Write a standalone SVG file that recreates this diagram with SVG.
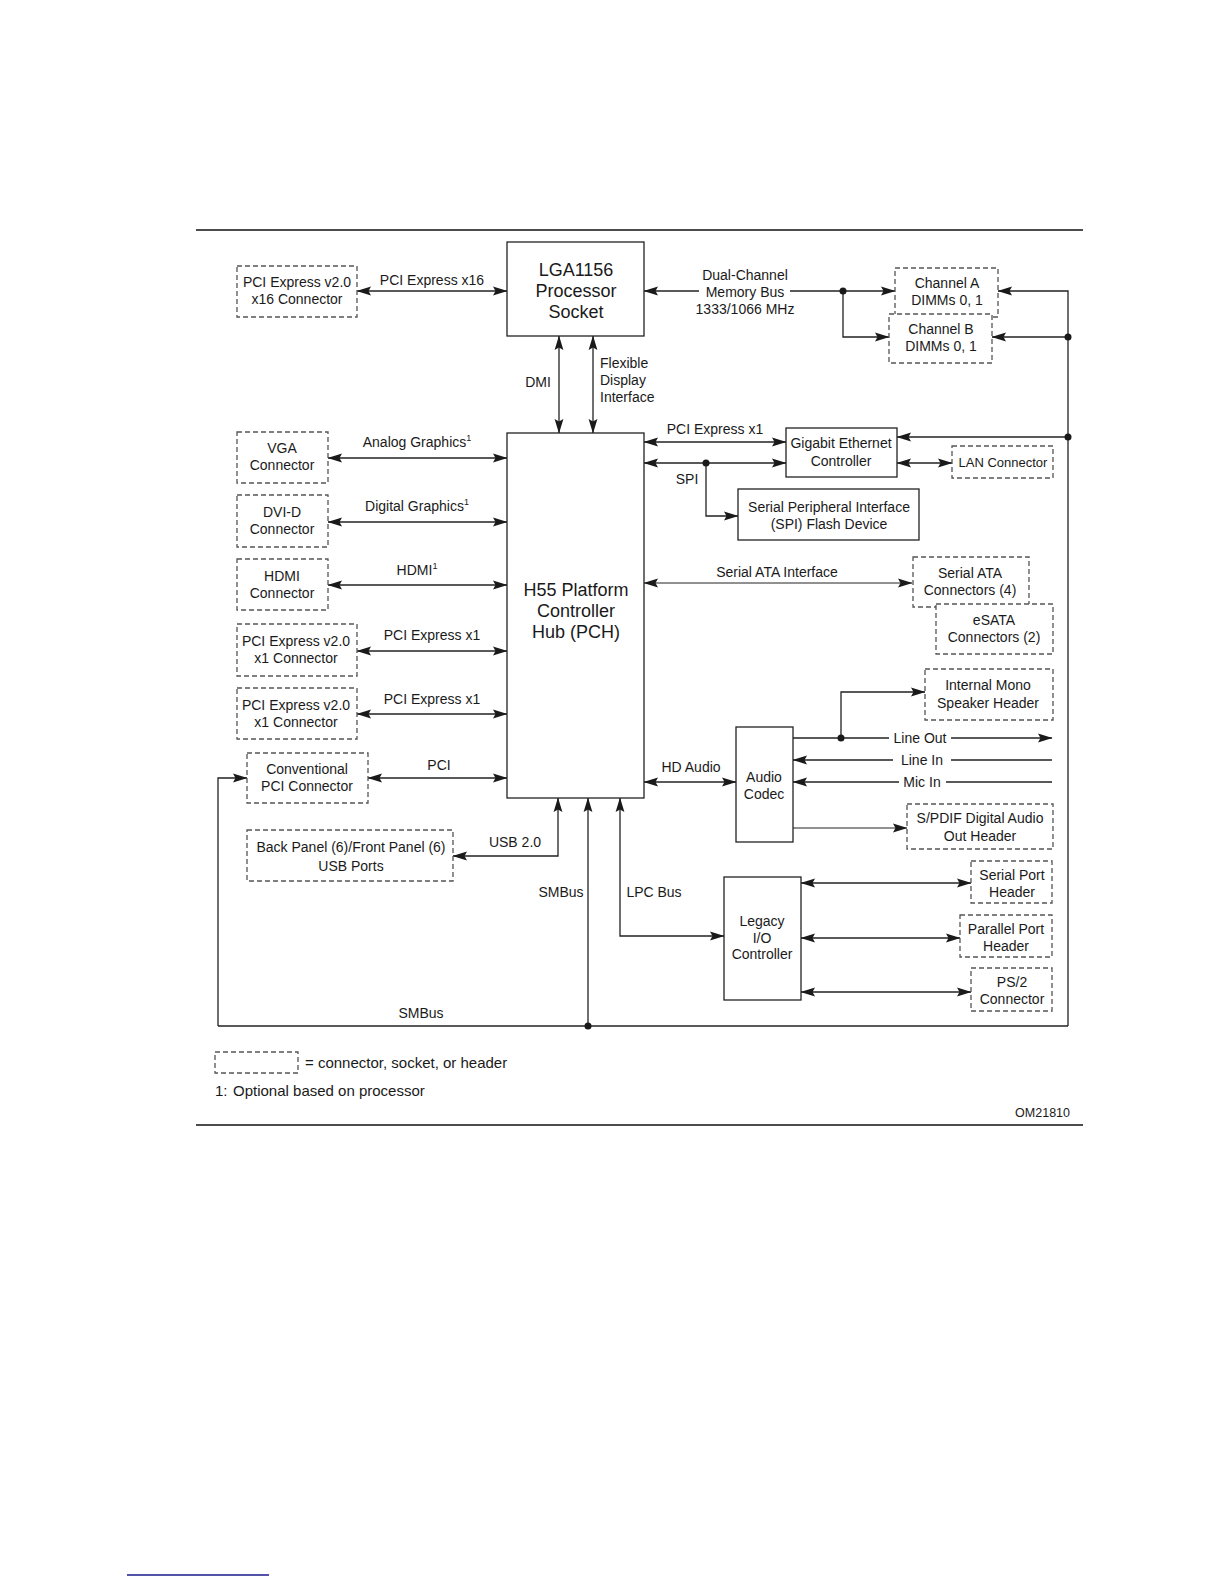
<svg xmlns="http://www.w3.org/2000/svg" width="1224" height="1584" viewBox="0 0 1224 1584">
<style>
.t{font-family:"Liberation Sans",Arial,sans-serif;font-size:14px;fill:#1a1a1a;text-anchor:middle}
.big{font-size:18px}
.st{text-anchor:start}
.sup{font-size:9px}
.box{fill:#fff;stroke:#222;stroke-width:1.3}
.dbox{fill:#fff;stroke:#555;stroke-width:1.3;stroke-dasharray:5 3}
.ln{fill:none;stroke:#222;stroke-width:1.3}
.thin{stroke-width:1}
.ab{marker-start:url(#ah);marker-end:url(#ah)}
.ae{marker-end:url(#ah)}
</style>
<defs>
<marker id="ah" markerUnits="userSpaceOnUse" markerWidth="16" markerHeight="10" refX="14" refY="5" orient="auto-start-reverse" viewBox="0 0 16 10">
<path d="M0,0.6 L14.5,5 L0,9.4 L2.5,5 z" fill="#1a1a1a"/>
</marker>
</defs>
<rect width="1224" height="1584" fill="#fff"/>
<line x1="196" y1="230" x2="1083" y2="230" stroke="#111" stroke-width="1.3"/>
<line x1="196" y1="1125" x2="1083" y2="1125" stroke="#111" stroke-width="1.3"/>
<line x1="127" y1="1575" x2="269" y2="1575" stroke="#1a1a8a" stroke-width="1.5"/>

<g id="connectors">
<line class="ln ab" x1="357" y1="291" x2="507" y2="291"/>
<line class="ln" x1="644" y1="291" x2="699" y2="291" style="marker-start:url(#ah)"/>
<line class="ln ae" x1="790" y1="291" x2="895" y2="291"/>
<path class="ln ae" d="M843,291 V337 H889"/>
<line class="ln ab" x1="559" y1="336" x2="559" y2="433"/>
<line class="ln ab" x1="593" y1="336" x2="593" y2="433"/>
<path class="ln ae" d="M1068,1026 V291 H998"/>
<line class="ln ae" x1="1068" y1="337" x2="992" y2="337"/>
<line class="ln ae" x1="1068" y1="437" x2="897" y2="437"/>
<line class="ln ab" x1="328" y1="458" x2="507" y2="458"/>
<line class="ln ab" x1="328" y1="522" x2="507" y2="522"/>
<line class="ln ab" x1="328" y1="585" x2="507" y2="585"/>
<line class="ln ab" x1="357" y1="651" x2="507" y2="651"/>
<line class="ln ab" x1="357" y1="714" x2="507" y2="714"/>
<line class="ln ab" x1="368" y1="778" x2="507" y2="778"/>
<line class="ln" x1="218" y1="1026" x2="1068" y2="1026"/>
<path class="ln ae" d="M218,1026 V778 H247"/>
<line class="ln ae" x1="588" y1="1026" x2="588" y2="798"/>
<path class="ln ab" d="M558,798 V856 H453"/>
<path class="ln ab" d="M620,798 V936 H724"/>
<line class="ln ab" x1="644" y1="442" x2="786" y2="442"/>
<line class="ln ab" x1="644" y1="463" x2="786" y2="463"/>
<path class="ln ae" d="M706,463 V516 H738"/>
<line class="ln ab" x1="897" y1="463" x2="952" y2="463"/>
<line class="ln ab thin" x1="644" y1="583" x2="912" y2="583"/>
<line class="ln ab" x1="644" y1="782" x2="736" y2="782"/>
<line class="ln" x1="793" y1="738" x2="889" y2="738"/>
<line class="ln ae" x1="951" y1="738" x2="1052" y2="738"/>
<path class="ln ae" d="M841,738 V692 H925"/>
<line class="ln" x1="1052" y1="760" x2="951" y2="760"/>
<line class="ln ae" x1="893" y1="760" x2="793" y2="760"/>
<line class="ln" x1="1052" y1="782" x2="946" y2="782"/>
<line class="ln ae" x1="899" y1="782" x2="793" y2="782"/>
<line class="ln ae thin" x1="793" y1="828" x2="907" y2="828"/>
<line class="ln ab" x1="801" y1="883" x2="971" y2="883"/>
<line class="ln ab" x1="801" y1="938" x2="960" y2="938"/>
<line class="ln ab" x1="801" y1="992" x2="971" y2="992"/>
<g fill="#1a1a1a">
<circle cx="843" cy="291" r="3.5"/>
<circle cx="1068" cy="337" r="3.5"/>
<circle cx="1068" cy="437" r="3.5"/>
<circle cx="706" cy="463" r="3.5"/>
<circle cx="841" cy="738" r="3.5"/>
<circle cx="588" cy="1026" r="3.5"/>
</g>
<text class="t" x="432" y="285">PCI Express x16</text>
<text class="t" x="745" y="280">Dual-Channel</text>
<text class="t" x="745" y="297">Memory Bus</text>
<text class="t" x="745" y="314">1333/1066 MHz</text>
<text class="t" x="538" y="387">DMI</text>
<text class="t st" x="600" y="368">Flexible</text>
<text class="t st" x="600" y="385">Display</text>
<text class="t st" x="600" y="402">Interface</text>
<text class="t" x="417" y="447">Analog Graphics<tspan class="sup" dy="-6">1</tspan></text>
<text class="t" x="417" y="511">Digital Graphics<tspan class="sup" dy="-6">1</tspan></text>
<text class="t" x="417" y="575">HDMI<tspan class="sup" dy="-6">1</tspan></text>
<text class="t" x="432" y="640">PCI Express x1</text>
<text class="t" x="432" y="704">PCI Express x1</text>
<text class="t" x="439" y="770">PCI</text>
<text class="t" x="515" y="847">USB 2.0</text>
<text class="t" x="561" y="897">SMBus</text>
<text class="t" x="654" y="897">LPC Bus</text>
<text class="t" x="421" y="1018">SMBus</text>
<text class="t" x="715" y="434">PCI Express x1</text>
<text class="t" x="687" y="484">SPI</text>
<text class="t" x="777" y="577">Serial ATA Interface</text>
<text class="t" x="691" y="772">HD Audio</text>
<text class="t" x="920" y="743">Line Out</text>
<text class="t" x="922" y="765">Line In</text>
<text class="t" x="922" y="787">Mic In</text>
</g>

<g id="lga"><rect class="box" x="507" y="242" width="137" height="94"/>
<text class="t big" x="576" y="276">LGA1156</text><text class="t big" x="576" y="297">Processor</text><text class="t big" x="576" y="318">Socket</text></g>
<g id="pch"><rect class="box" x="507" y="433" width="137" height="365"/>
<text class="t big" x="576" y="596">H55 Platform</text><text class="t big" x="576" y="617">Controller</text><text class="t big" x="576" y="638">Hub (PCH)</text></g>
<g id="pcie16"><rect class="dbox" x="237" y="266" width="120" height="51"/>
<text class="t" x="297" y="287">PCI Express v2.0</text><text class="t" x="297" y="304">x16 Connector</text></g>
<g id="chanA"><rect class="dbox" x="895" y="268" width="103" height="49"/>
<text class="t" x="947" y="288">Channel A</text><text class="t" x="947" y="305">DIMMs 0, 1</text></g>
<g id="chanB"><rect class="dbox" x="889" y="314" width="103" height="49"/>
<text class="t" x="941" y="334">Channel B</text><text class="t" x="941" y="351">DIMMs 0, 1</text></g>
<g id="gbe"><rect class="box" x="786" y="428" width="111" height="49"/>
<text class="t" x="841" y="448">Gigabit Ethernet</text><text class="t" x="841" y="466">Controller</text></g>
<g id="lan"><rect class="dbox" x="952" y="446" width="101" height="32"/>
<text class="t" x="1003" y="467" style="font-size:13px">LAN Connector</text></g>
<g id="spiflash"><rect class="box" x="738" y="489" width="181" height="51"/>
<text class="t" x="829" y="512">Serial Peripheral Interface</text><text class="t" x="829" y="529">(SPI) Flash Device</text></g>
<g id="sata"><rect class="dbox" x="913" y="557" width="116" height="50"/>
<text class="t" x="970" y="578">Serial ATA</text><text class="t" x="970" y="595">Connectors (4)</text></g>
<g id="esata"><rect class="dbox" x="936" y="604" width="117" height="50"/>
<text class="t" x="994" y="625">eSATA</text><text class="t" x="994" y="642">Connectors (2)</text></g>
<g id="vga"><rect class="dbox" x="237" y="432" width="91" height="51"/>
<text class="t" x="282" y="453">VGA</text><text class="t" x="282" y="470">Connector</text></g>
<g id="dvi"><rect class="dbox" x="237" y="495" width="91" height="52"/>
<text class="t" x="282" y="517">DVI-D</text><text class="t" x="282" y="534">Connector</text></g>
<g id="hdmi"><rect class="dbox" x="237" y="559" width="91" height="51"/>
<text class="t" x="282" y="581">HDMI</text><text class="t" x="282" y="598">Connector</text></g>
<g id="pcie1a"><rect class="dbox" x="237" y="624" width="120" height="52"/>
<text class="t" x="296" y="646">PCI Express v2.0</text><text class="t" x="296" y="663">x1 Connector</text></g>
<g id="pcie1b"><rect class="dbox" x="237" y="688" width="120" height="51"/>
<text class="t" x="296" y="710">PCI Express v2.0</text><text class="t" x="296" y="727">x1 Connector</text></g>
<g id="pci"><rect class="dbox" x="247" y="753" width="121" height="50"/>
<text class="t" x="307" y="774">Conventional</text><text class="t" x="307" y="791">PCI Connector</text></g>
<g id="usb"><rect class="dbox" x="247" y="830" width="206" height="51"/>
<text class="t" x="351" y="852">Back Panel (6)/Front Panel (6)</text><text class="t" x="351" y="871">USB Ports</text></g>
<g id="mono"><rect class="dbox" x="925" y="669" width="128" height="51"/>
<text class="t" x="988" y="690">Internal Mono</text><text class="t" x="988" y="708">Speaker Header</text></g>
<g id="codec"><rect class="box" x="736" y="727" width="57" height="115"/>
<text class="t" x="764" y="782">Audio</text><text class="t" x="764" y="799">Codec</text></g>
<g id="spdif"><rect class="dbox" x="907" y="804" width="146" height="45"/>
<text class="t" x="980" y="823">S/PDIF Digital Audio</text><text class="t" x="980" y="841">Out Header</text></g>
<g id="legacy"><rect class="box" x="724" y="877" width="77" height="123"/>
<text class="t" x="762" y="926">Legacy</text><text class="t" x="762" y="943">I/O</text><text class="t" x="762" y="959">Controller</text></g>
<g id="serial"><rect class="dbox" x="971" y="861" width="81" height="42"/>
<text class="t" x="1012" y="880">Serial Port</text><text class="t" x="1012" y="897">Header</text></g>
<g id="parallel"><rect class="dbox" x="960" y="915" width="92" height="42"/>
<text class="t" x="1006" y="934">Parallel Port</text><text class="t" x="1006" y="951">Header</text></g>
<g id="ps2"><rect class="dbox" x="971" y="968" width="81" height="43"/>
<text class="t" x="1012" y="987">PS/2</text><text class="t" x="1012" y="1004">Connector</text></g>

<g id="legend"><rect class="dbox" x="215" y="1052" width="83" height="21"/>
<text class="t st" x="305" y="1068" style="font-size:15px">= connector, socket, or header</text>
<text class="t st" x="215" y="1096" style="font-size:15px">1:</text>
<text class="t st" x="233" y="1096" style="font-size:15px">Optional based on processor</text>
<text class="t" x="1070" y="1117" style="font-size:12.5px;text-anchor:end">OM21810</text></g>
</svg>
